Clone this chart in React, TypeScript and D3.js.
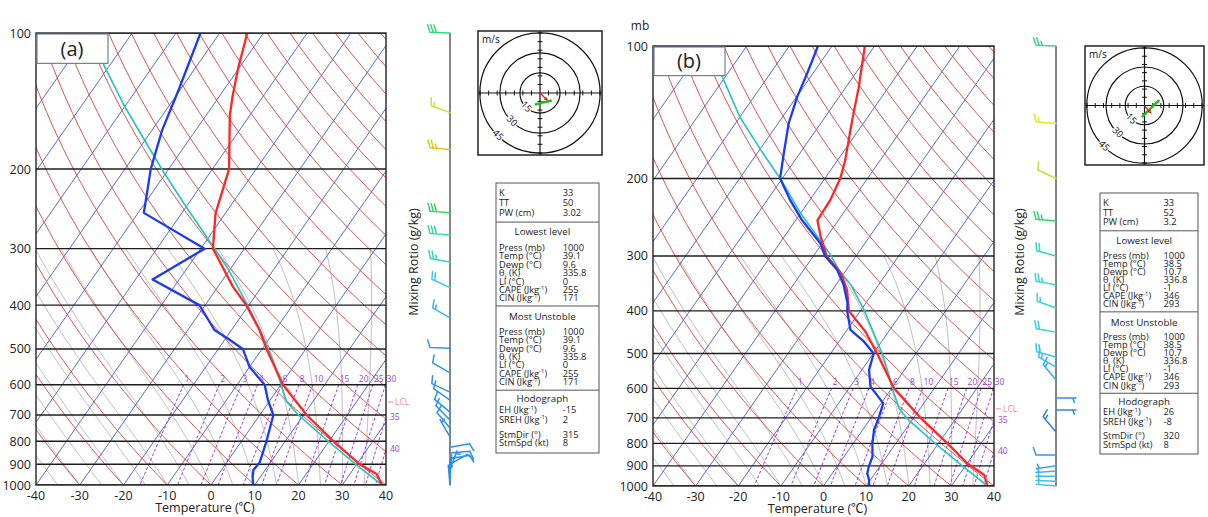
import * as d3 from 'd3'

// ---------- axes / guide values ----------
const PRESSURE_TICKS = [100, 200, 300, 400, 500, 600, 700, 800, 900, 1000]
const TEMP_TICKS = [-40, -30, -20, -10, 0, 10, 20, 30, 40]
const MIXING_RATIOS = [1, 2, 3, 4, 6, 8, 10, 15, 20, 25, 30, 35, 40]
const MOIST_STARTS = [-40, -35, -30, -25, -20, -15, -10, -5, 0, 5, 10, 15, 20, 25, 30, 35, 40]
const HODO_RINGS = [15, 30, 45]
const SKEW = 72 // degC of skew between 1000 and 100 mb

// ---------- (a) sounding ----------
const A_TEMP_P = [1000, 945, 900, 800, 700, 600, 500, 454, 400, 364, 300, 251, 200, 152, 138, 119, 100]
const A_TEMP_T = [39.1, 36.1, 30.7, 21.0, 10.7, 0.5, -9.0, -13.6, -20.6, -26.6, -37.2, -42.2, -46.2, -54.6, -57.0, -60.3, -63.7]
const A_DEW_P = [1000, 959, 926, 889, 800, 700, 649, 600, 548, 500, 477, 454, 400, 351, 300, 250, 200, 164, 134, 100]
const A_DEW_T = [9.6, 8.2, 7.3, 7.5, 5.7, 3.1, -0.5, -3.7, -10.0, -14.4, -18.9, -23.9, -31.3, -46.1, -39.1, -58.7, -64.1, -67.7, -70.3, -74.4]
const A_PARCEL_P = [1000, 900, 800, 700, 654, 586, 520, 469, 400, 335, 300, 242, 201, 146, 116, 100]
const A_PARCEL_T = [39.1, 29.8, 19.8, 8.8, 4.0, -1.0, -6.7, -11.8, -20.3, -30.1, -36.8, -50.1, -61.3, -79.8, -92.2, -99.9]
const A_LCL = 655
const A_BARB_P = [100, 150, 181, 250, 280, 321, 366, 427, 498, 565, 623, 649, 690, 718, 748, 783, 825, 850, 875, 900, 925, 950, 975, 1000]
const A_BARB_DIR = [272, 290, 275, 275, 275, 280, 295, 300, 272, 300, 295, 305, 310, 315, 320, 330, 80, 85, 80, 60, 20, 5, 0, 355]
const A_BARB_SPD = [30, 15, 25, 30, 30, 25, 20, 15, 10, 10, 10, 10, 10, 10, 10, 5, 10, 10, 10, 10, 5, 5, 5, 5]
const A_HODO_U = [-3, -1, 2, 5, 8]
const A_HODO_V = [-8.5, -8, -7, -6.5, -5.8]
const A_STORM = [315, 8]
const A_TABLE = ['33', '50', '3.02', '1000', '39.1', '9.6', '335.8', '0', '255', '171', '1000', '39.1', '9.6', '335.8', '0', '255', '171', '-15', '2', '315', '8']

// ---------- (b) sounding ----------
const B_TEMP_P = [1000, 944, 889, 800, 700, 649, 600, 500, 446, 400, 359, 328, 300, 271, 249, 224, 200, 182, 147, 124, 100]
const B_TEMP_T = [38.5, 35.9, 30.1, 22.1, 11.6, 6.2, 0.6, -9.1, -15.4, -22.7, -26.5, -30.8, -36.9, -41.5, -44.9, -45.2, -46.4, -48.2, -53.2, -57.0, -62.3]
const B_DEW_P = [1000, 969, 936, 901, 858, 800, 746, 700, 649, 616, 595, 545, 500, 470, 442, 400, 384, 349, 323, 300, 281, 249, 224, 200, 175, 150, 130, 115, 100]
const B_DEW_T = [10.7, 9.7, 8.2, 7.4, 6.7, 4.5, 2.7, 1.8, 0.5, -2.9, -5.2, -8.3, -9.9, -14.1, -19.2, -23.1, -24.3, -28.2, -32.1, -37.3, -40.4, -48.5, -54.6, -60.5, -63.8, -67.5, -69.9, -71.4, -73.3]
const B_PARCEL_P = [1000, 912, 800, 702, 666, 616, 545, 500, 398, 349, 323, 298, 240, 200, 172, 145, 117, 100]
const B_PARCEL_T = [38.5, 30.4, 19.2, 8.5, 5.0, 1.4, -4.0, -7.9, -19.3, -26.5, -31.7, -36.2, -50.0, -60.5, -69.8, -80.0, -90.9, -97.0]
const B_LCL = 668
const B_BARB_P = [100, 150, 200, 250, 300, 349, 394, 447, 509, 537, 574, 631, 672, 754, 850, 900, 925, 950, 975, 1000]
const B_BARB_DIR = [272, 275, 295, 275, 285, 280, 290, 280, 285, 300, 320, 90, 90, 320, 270, 262, 266, 270, 272, 275]
const B_BARB_SPD = [25, 15, 10, 25, 20, 25, 15, 20, 20, 15, 15, 5, 5, 15, 10, 5, 5, 5, 5, 5]
const B_HODO_U = [-1.5, 2, 5, 8, 11]
const B_HODO_V = [-8.5, -5, -2, 1, 3.7]
const B_STORM = [320, 8]
const B_TABLE = ['33', '52', '3.2', '1000', '38.5', '10.7', '336.8', '-1', '346', '293', '1000', '38.5', '10.7', '336.8', '-1', '346', '293', '26', '-8', '320', '8']

const TABLE_LABELS = [
  'K', 'TT', 'PW (cm)',
  'Press (mb)', 'Temp (°C)', 'Dewp (°C)', 'θ_{t} (K)', 'LI (°C)', 'CAPE (Jkg^{-1})', 'CIN (Jkg^{-1})',
  'Press (mb)', 'Temp (°C)', 'Dewp (°C)', 'θ_{t} (K)', 'LI (°C)', 'CAPE (Jkg^{-1})', 'CIN (Jkg^{-1})',
  'EH (Jkg^{-1})', 'SREH (Jkg^{-1})', 'StmDir (°)', 'StmSpd (kt)',
]
const TABLE_HEADERS = ['Lowest level', 'Most Unstoble', 'Hodograph']

// ---------- thermodynamics for the guide lines ----------
const esat = (t: number) => 6.112 * Math.exp((17.67 * t) / (t + 243.5))
const dewFromE = (e: number) => {
  const l = Math.log(e / 6.112)
  return (243.5 * l) / (17.67 - l)
}
const mixDew = (w: number, p: number) => dewFromE((w * p) / (622 + w) / 0.93)

function moistAdiabat(t0: number, top: number) {
  const pts: [number, number][] = []
  let T = t0 + 273.15
  for (let p = 1000; p >= top; p -= 5) {
    pts.push([p, T - 273.15])
    const es = esat(T - 273.15)
    const rs = (0.622 * es) / (p - es)
    const num = 287.04 * T + 2.501e6 * rs
    const den = 1005.7 + (2.501e6 * 2.501e6 * rs * 0.622) / (287.04 * T * T)
    T -= (num / den / p) * 5
  }
  return pts
}

const zip = (p: number[], t: number[]) => p.map((v, i) => [v, t[i]] as [number, number])

type Panel = {
  id: string
  label: string
  x0: number
  y0: number
  w: number
  h: number
  barbX: number
  hodo: number[]
  table: number[]
  showMb: boolean
  temp: [number, number][]
  dew: [number, number][]
  parcel: [number, number][]
  lcl: number
  barbP: number[]
  barbDir: number[]
  barbSpd: number[]
  barbColor: d3.ScaleLinear<string, string>
  hodoU: number[]
  hodoV: number[]
  storm: number[]
  values: string[]
}

const PANELS: Panel[] = [
  {
    id: 'a', label: '(a)', x0: 36, y0: 33, w: 350, h: 452, barbX: 450,
    hodo: [478, 31, 124], table: [496, 183, 103, 270], showMb: false,
    temp: zip(A_TEMP_P, A_TEMP_T), dew: zip(A_DEW_P, A_DEW_T), parcel: zip(A_PARCEL_P, A_PARCEL_T),
    lcl: A_LCL, barbP: A_BARB_P, barbDir: A_BARB_DIR, barbSpd: A_BARB_SPD,
    barbColor: d3.scaleLinear<string>()
      .domain([100, 150, 181, 250, 280, 321, 366, 427, 520, 1000])
      .range(['#38d67a', '#c6e23c', '#e6c21e', '#36d45a', '#33d6a0', '#34d2c6', '#3ccbe8', '#3cb2f2', '#2f92e6', '#2a8ff0']),
    hodoU: A_HODO_U, hodoV: A_HODO_V, storm: A_STORM, values: A_TABLE,
  },
  {
    id: 'b', label: '(b)', x0: 653, y0: 46, w: 341, h: 440, barbX: 1056,
    hodo: [1085, 46, 119], table: [1100, 193, 98, 261], showMb: true,
    temp: zip(B_TEMP_P, B_TEMP_T), dew: zip(B_DEW_P, B_DEW_T), parcel: zip(B_PARCEL_P, B_PARCEL_T),
    lcl: B_LCL, barbP: B_BARB_P, barbDir: B_BARB_DIR, barbSpd: B_BARB_SPD,
    barbColor: d3.scaleLinear<string>()
      .domain([100, 150, 200, 250, 300, 349, 420, 520, 640, 750, 850, 1000])
      .range(['#36d88a', '#e6e61e', '#c2e23a', '#34d270', '#34d6b0', '#36d4c8', '#3ad0e0', '#38c4ee', '#2a8ee8', '#2a7ee0', '#3898e8', '#44c6f2']),
    hodoU: B_HODO_U, hodoV: B_HODO_V, storm: B_STORM, values: B_TABLE,
  },
]

function Rich({ text, x, y, size, anchor = 'start' }: { text: string; x: number; y: number; size: number; anchor?: string }) {
  const parts = text.split(/(\^\{[^}]*\}|_\{[^}]*\})/).filter(Boolean)
  let shift = 0
  return (
    <text x={x} y={y} fontSize={size} textAnchor={anchor} fill="#222">
      {parts.map((s, i) => {
        let target = 0
        let body = s
        let fs = size
        if (s.startsWith('^{')) { target = -size * 0.35; body = s.slice(2, -1); fs = size * 0.65 }
        else if (s.startsWith('_{')) { target = size * 0.25; body = s.slice(2, -1); fs = size * 0.65 }
        const dy = target - shift
        shift = target
        return <tspan key={i} dy={dy} fontSize={fs}>{body}</tspan>
      })}
    </text>
  )
}

function Barb({ x, y, dir, spd, color }: { x: number; y: number; dir: number; spd: number; color: string }) {
  const L = 20
  const rad = (dir * Math.PI) / 180
  const ux = Math.sin(rad)
  const uy = -Math.cos(rad)
  const nx = -uy
  const ny = ux
  const ex = x + L * ux
  const ey = y + L * uy
  let rest = Math.round(spd / 5) * 5
  const segs: string[] = [`M${x},${y}L${ex},${ey}`]
  let k = 0
  const full = Math.floor(rest / 10)
  rest -= full * 10
  for (let i = 0; i < full; i++) {
    const px = ex - k * 3.2 * ux
    const py = ey - k * 3.2 * uy
    segs.push(`M${px},${py}l${8 * (0.94 * nx + 0.34 * ux)},${8 * (0.94 * ny + 0.34 * uy)}`)
    k++
  }
  if (rest >= 5) {
    if (k === 0) k = 1
    const px = ex - k * 3.2 * ux
    const py = ey - k * 3.2 * uy
    segs.push(`M${px},${py}l${4.5 * (0.94 * nx + 0.34 * ux)},${4.5 * (0.94 * ny + 0.34 * uy)}`)
  }
  return <path d={segs.join('')} stroke={color} strokeWidth={1.5} fill="none" strokeLinecap="round" />
}

function Hodograph({ cfg }: { cfg: Panel }) {
  const [bx, by, size] = cfg.hodo
  const cx = bx + size / 2
  const cy = by + size / 2
  const r = d3.scaleLinear().domain([0, 45]).range([0, size * 0.485])
  const ticks = d3.range(6.4, 60, 6.4)
  const clip = `hodo-${cfg.id}`
  const pts = cfg.hodoU.map((u, i) => [cx + r(u), cy - r(cfg.hodoV[i])] as [number, number])
  const toward = ((cfg.storm[0] + 180) * Math.PI) / 180
  const sxp = cx + r(cfg.storm[1] * Math.sin(toward))
  const syp = cy - r(cfg.storm[1] * Math.cos(toward))
  const ang = Math.atan2(syp - cy, sxp - cx)
  const head = [
    [sxp, syp],
    [sxp - 4 * Math.cos(ang - 0.5), syp - 4 * Math.sin(ang - 0.5)],
    [sxp - 4 * Math.cos(ang + 0.5), syp - 4 * Math.sin(ang + 0.5)],
  ]
  return (
    <g>
      <defs>
        <clipPath id={clip}>
          <rect x={bx} y={by} width={size} height={size} />
        </clipPath>
      </defs>
      <rect x={bx} y={by} width={size} height={size} fill="#fff" />
      <g clipPath={`url(#${clip})`}>
        {HODO_RINGS.map((v) => (
          <circle key={v} cx={cx} cy={cy} r={r(v)} fill="none" stroke="#111" strokeWidth={1.2} />
        ))}
        <line x1={bx} x2={bx + size} y1={cy} y2={cy} stroke="#111" strokeWidth={1.2} />
        <line x1={cx} x2={cx} y1={by} y2={by + size} stroke="#111" strokeWidth={1.2} />
        {ticks.flatMap((t) => [-1, 1].map((s) => (
          <g key={`${t}${s}`} stroke="#111" strokeWidth={1}>
            <line x1={cx + s * r(t)} x2={cx + s * r(t)} y1={cy - 2.5} y2={cy + 2.5} />
            <line y1={cy + s * r(t)} y2={cy + s * r(t)} x1={cx - 2.5} x2={cx + 2.5} />
          </g>
        )))}
        {HODO_RINGS.map((v) => {
          const px = cx - r(v) * Math.SQRT1_2
          const py = cy + r(v) * Math.SQRT1_2
          return (
            <text key={v} x={px} y={py} fontSize={9.5} textAnchor="middle" dominantBaseline="middle"
              transform={`rotate(45 ${px} ${py})`} fill="#111" stroke="#fff" strokeWidth={2.5} paintOrder="stroke">
              {v}
            </text>
          )
        })}
        <path d={d3.line()(pts) ?? undefined} stroke="#1fbf1f" strokeWidth={2.6} fill="none" strokeLinecap="round" />
        <line x1={cx} y1={cy} x2={sxp} y2={syp} stroke="#e02020" strokeWidth={1.3} />
        <path d={d3.line()(head as [number, number][]) + 'Z'} fill="#e02020" />
      </g>
      <rect x={bx} y={by} width={size} height={size} fill="none" stroke="#222" strokeWidth={1.5} />
      <text x={bx + 4} y={by + 12} fontSize={10} fill="#111">m/s</text>
    </g>
  )
}

function InfoTable({ cfg }: { cfg: Panel }) {
  const [tx, ty, tw, th] = cfg.table
  const k = th / 269.4
  const rowY = [
    10, 20, 30,
    64.7, 73, 81.3, 89.7, 98, 106.3, 114.7,
    148.4, 156.7, 165, 173.4, 181.7, 190, 198.4,
    226, 235.7, 250.7, 259.4,
  ]
  const headY = [48.7, 133.4, 215]
  const dividers = [39, 122.7, 206.7]
  const fs = 9.3
  return (
    <g fontFamily="'Open Sans', sans-serif">
      <rect x={tx} y={ty} width={tw} height={th} fill="#fff" stroke="#555" strokeWidth={1} />
      {dividers.map((d) => (
        <line key={d} x1={tx} x2={tx + tw} y1={ty + d * k} y2={ty + d * k} stroke="#555" strokeWidth={1} />
      ))}
      {TABLE_HEADERS.map((h, i) => (
        <text key={h} x={tx + tw * 0.45} y={ty + headY[i] * k + 3.5} fontSize={9.8} textAnchor="middle" fill="#222">{h}</text>
      ))}
      {TABLE_LABELS.map((l, i) => (
        <Rich key={i} text={l} x={tx + 3} y={ty + rowY[i] * k + 3.3} size={fs} />
      ))}
      {cfg.values.map((v, i) => (
        <text key={i} x={tx + tw * 0.648} y={ty + rowY[i] * k + 3.3} fontSize={fs} fill="#222">{v}</text>
      ))}
    </g>
  )
}

function SkewT({ cfg }: { cfg: Panel }) {
  const { x0, y0, w, h } = cfg
  const right = x0 + w
  const xs = d3.scaleLinear().domain([-40, 40]).range([x0, right])
  const ys = d3.scaleLog().domain([100, 1000]).range([y0, y0 + h])
  const sx = (t: number, p: number) => xs(t + SKEW * Math.log10(1000 / p))
  const line = d3.line<[number, number]>().x((d) => sx(d[1], d[0])).y((d) => ys(d[0]))
  const clipId = `clip-${cfg.id}`

  const isotherms = d3.range(-120, 50, 10).map((t) => [[1000, t], [100, t]] as [number, number][])
  const dry = d3.range(-40, 230, 10).map((th) =>
    d3.range(100, 1001, 10).map((p) => [p, (th + 273.15) * Math.pow(p / 1000, 0.2857) - 273.15] as [number, number])
  )
  const moist = MOIST_STARTS.map((t0) => moistAdiabat(t0, 300))
  const mixing = MIXING_RATIOS.map((wr) => d3.range(600, 1001, 10).map((p) => [p, mixDew(wr, p)] as [number, number]))

  const mixLabels = MIXING_RATIOS.map((wr) => {
    const xTop = sx(mixDew(wr, 600), 600)
    if (xTop <= right + 1) return { wr, x: xTop + 1, y: ys(600) - 3 }
    let lo = 600
    let hi = 1000
    for (let i = 0; i < 30; i++) {
      const mid = (lo + hi) / 2
      if (sx(mixDew(wr, mid), mid) > right) lo = mid
      else hi = mid
    }
    return { wr, x: right + 4, y: ys(lo) + 3 }
  })

  const midX = (x0 + right) / 2 - 6

  return (
    <g>
      <defs>
        <clipPath id={clipId}>
          <rect x={x0} y={y0} width={w} height={h} />
        </clipPath>
      </defs>
      <g clipPath={`url(#${clipId})`} fill="none">
        {moist.map((m, i) => <path key={`m${i}`} d={line(m) ?? undefined} stroke="#b4b4b4" strokeWidth={0.9} />)}
        {isotherms.map((l, i) => <path key={`i${i}`} d={line(l) ?? undefined} stroke="#4a58c8" strokeWidth={0.9} />)}
        {dry.map((l, i) => <path key={`d${i}`} d={line(l) ?? undefined} stroke="#d24040" strokeWidth={0.9} />)}
        {mixing.map((l, i) => (
          <path key={`w${i}`} d={line(l) ?? undefined} stroke="#9b35c9" strokeWidth={1} strokeDasharray="3,2" />
        ))}
        {PRESSURE_TICKS.map((p) => (
          <line key={p} x1={x0} x2={right} y1={ys(p)} y2={ys(p)} stroke="#1c1c1c" strokeWidth={1.4} />
        ))}
        <path d={line(cfg.parcel) ?? undefined} stroke="#2cc4c0" strokeWidth={1.7} />
        <path d={line(cfg.temp) ?? undefined} stroke="#ff2626" strokeWidth={2.3} strokeLinejoin="round" />
        <path d={line(cfg.dew) ?? undefined} stroke="#1a3cf0" strokeWidth={2.3} strokeLinejoin="round" />
      </g>
      <rect x={x0} y={y0} width={w} height={h} fill="none" stroke="#222" strokeWidth={1.4} />
      <rect x={x0 + 1} y={y0 + 1} width={71} height={h * 0.065} fill="#fff" stroke="#6f7f9f" strokeWidth={1.2} />
      <text x={x0 + 36} y={y0 + h * 0.05} fontSize={20} textAnchor="middle" fill="#222">{cfg.label}</text>

      {mixLabels.map((m) => (
        <text key={m.wr} x={m.x} y={m.y} fontSize={8.5} fill="#a13fd2">{m.wr}</text>
      ))}
      <line x1={right + 2} x2={right + 7} y1={ys(cfg.lcl)} y2={ys(cfg.lcl)} stroke="#f08a8a" strokeWidth={1} />
      <text x={right + 9} y={ys(cfg.lcl) + 3} fontSize={8.5} fill="#f08a8a">LCL</text>

      {PRESSURE_TICKS.map((p) => (
        <text key={p} x={x0 - 5} y={ys(p) + 4.5} fontSize={12.5} textAnchor="end" fill="#222">{p}</text>
      ))}
      {TEMP_TICKS.map((t) => (
        <text key={t} x={xs(t)} y={y0 + h + 15} fontSize={12.5} textAnchor="middle" fill="#222">{t}</text>
      ))}
      <text x={midX} y={y0 + h + 27} fontSize={12.5} textAnchor="middle" fill="#222">Temperature (℃)</text>
      {cfg.showMb && <text x={x0 - 13} y={y0 - 16} fontSize={12} textAnchor="middle" fill="#222">mb</text>}

      <line x1={cfg.barbX} x2={cfg.barbX} y1={y0} y2={y0 + h} stroke="#333" strokeWidth={1.2} />
      {cfg.barbP.map((p, i) => (
        <Barb key={p} x={cfg.barbX} y={ys(p)} dir={cfg.barbDir[i]} spd={cfg.barbSpd[i]} color={cfg.barbColor(p)} />
      ))}
      <text
        x={cfg.barbX - 35}
        y={262}
        fontSize={12.5}
        textAnchor="middle"
        fill="#222"
        transform={`rotate(-90 ${cfg.barbX - 35} 262)`}
        dominantBaseline="middle"
      >
        Mixing Rotio (g/kg)
      </text>

      <Hodograph cfg={cfg} />
      <InfoTable cfg={cfg} />
    </g>
  )
}

export default function App() {
  return (
    <svg
      width={1208}
      height={517}
      style={{ position: 'absolute', left: 0, top: 0, background: '#fff' }}
      fontFamily="'Open Sans', 'Noto Sans CJK SC', sans-serif"
    >
      <rect width={1208} height={517} fill="#fff" />
      {PANELS.map((p) => (
        <SkewT key={p.id} cfg={p} />
      ))}
    </svg>
  )
}
